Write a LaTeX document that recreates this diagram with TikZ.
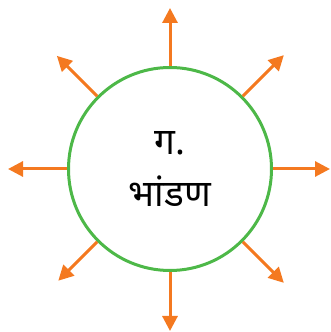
\documentclass[tikz,border=0pt]{standalone}
\usepackage{fontspec}
\newfontfamily\devfont[Script=Devanagari]{Noto Sans}
\usetikzlibrary{arrows.meta, calc}
\definecolor{ringgreen}{HTML}{4DB848}
\definecolor{arrorange}{HTML}{F47920}

\begin{document}
\begin{tikzpicture}[x=1pt, y=1pt,
  ring/.style={draw=ringgreen, circle, line width=3pt, minimum size=203pt, inner sep=0pt, align=center, font=\devfont\fontsize{37}{50}\selectfont},
  ray/.style={draw=arrorange, line width=3pt, -{Triangle[length=15pt, width=15pt]}}
]
\useasboundingbox (0,0) rectangle (330,332);
\node[ring] (c) at (170,163) {ग.\\[2pt]भांडण};

\coordinate (n)  at ($(c.center)+(90:161)$);
\coordinate (ne) at ($(c.center)+(45:161)$);
\coordinate (e)  at ($(c.center)+(0:160)$);
\coordinate (se) at ($(c.center)+(-45:161)$);
\coordinate (s)  at ($(c.center)+(-90:162)$);
\coordinate (sw) at ($(c.center)+(-135:158)$);
\coordinate (w)  at ($(c.center)+(180:162)$);
\coordinate (nw) at ($(c.center)+(135:160)$);

\draw[ray] (c.90)   -- (n);
\draw[ray] (c.45)   -- (ne);
\draw[ray] (c.0)    -- (e);
\draw[ray] (c.-45)  -- (se);
\draw[ray] (c.-90)  -- (s);
\draw[ray] (c.-135) -- (sw);
\draw[ray] (c.180)  -- (w);
\draw[ray] (c.135)  -- (nw);
\end{tikzpicture}
\end{document}
